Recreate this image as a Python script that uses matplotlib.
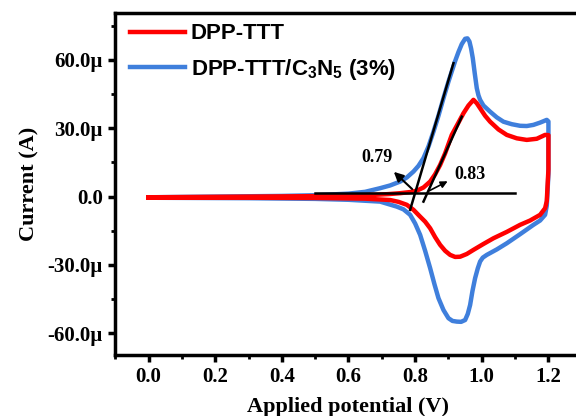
import numpy as np
import matplotlib
matplotlib.use("Agg")
import matplotlib.pyplot as plt
from matplotlib.ticker import MultipleLocator, FuncFormatter

plt.rcParams['mathtext.fontset'] = 'custom'
plt.rcParams['mathtext.rm'] = 'Liberation Sans:bold'
plt.rcParams['mathtext.bf'] = 'Liberation Sans:bold'

# DPP-TTT, forward then reverse scan (V, uA)
red_v = [0.0, 0.3, 0.5, 0.6, 0.68, 0.72, 0.755, 0.785, 0.805, 0.825, 0.845, 0.86, 0.875,
         0.89, 0.91, 0.93, 0.945, 0.96, 0.975, 0.985, 0.995, 1.01, 1.025, 1.05, 1.075,
         1.105, 1.135, 1.165, 1.19, 1.2,
         1.2, 1.195, 1.19, 1.175, 1.145, 1.115, 1.075, 1.035, 1.005, 0.975, 0.955,
         0.935, 0.92, 0.905, 0.89, 0.875, 0.86, 0.845, 0.83, 0.815, 0.795, 0.775,
         0.75, 0.725, 0.65, 0.5, 0.3, 0.0]
red_i = [-0.3, 0.0, 0.2, 0.4, 0.8, 1.1, 1.5, 2.0, 2.6, 4.0, 6.6, 9.8, 13.9,
         19.0, 27.1, 32.5, 36.6, 40.0, 42.5, 41.0, 38.8, 35.5, 32.9, 29.5, 27.1,
         25.6, 24.9, 25.4, 27.1, 27.0,
         12.0, -2.0, -5.1, -8.0, -10.5, -12.4, -15.5, -18.3, -20.8, -23.4, -25.2,
         -26.4, -26.5, -25.6, -23.8, -21.2, -17.8, -13.9, -11.0, -8.8, -5.8, -3.6,
         -2.3, -1.5, -0.9, -0.6, -0.5, -0.5]

# DPP-TTT/C3N5 (3%)
blue_v = [0.0, 0.2, 0.4, 0.5, 0.6, 0.65, 0.695, 0.725, 0.755, 0.775, 0.795, 0.81,
          0.825, 0.84, 0.855, 0.87, 0.885, 0.9, 0.91, 0.92, 0.93, 0.94, 0.95, 0.957,
          0.963, 0.968, 0.973, 0.979, 0.985, 0.99, 0.995, 1.005, 1.025, 1.045, 1.065,
          1.09, 1.115, 1.135, 1.155, 1.175, 1.195, 1.2,
          1.2, 1.195, 1.19, 1.175, 1.155, 1.115, 1.075, 1.045, 1.015, 1.003, 0.995,
          0.988, 0.98, 0.972, 0.965, 0.958, 0.95, 0.938, 0.925, 0.912, 0.9, 0.885,
          0.87, 0.858, 0.845, 0.83, 0.815, 0.8, 0.785, 0.765, 0.745, 0.695, 0.6,
          0.5, 0.3, 0.0]
blue_i = [-0.3, 0.0, 0.3, 0.6, 1.3, 2.1, 3.7, 4.9, 6.6, 8.4, 11.0, 13.5,
          16.9, 22.0, 28.5, 35.5, 43.2, 50.5, 55.0, 59.5, 63.5, 67.0, 69.3, 69.5,
          68.1, 65.0, 60.8, 54.0, 47.6, 44.5, 42.5, 40.0, 37.3, 34.8, 32.9,
          31.8, 31.1, 31.0, 31.5, 32.5, 33.7, 33.0,
          10.0, -4.0, -8.0, -10.5, -12.4, -16.5, -20.5, -23.2, -25.6, -26.8, -28.5,
          -31.5, -35.8, -41.5, -47.6, -51.5, -54.2, -55.0, -54.9, -54.6, -53.4, -49.8,
          -44.6, -38.5, -31.4, -23.8, -16.8, -11.8, -8.0, -5.6, -4.4, -2.2, -1.4,
          -1.0, -0.7, -0.5]

# onset construction lines
base_v = [0.5, 1.1]
base_i = [1.6, 1.6]
blue_tan_v = [0.785, 0.915]
blue_tan_i = [-5.8, 58.6]
red_tan_v = [0.825, 0.94]
red_tan_i = [-2.2, 35.1]

fig = plt.figure(figsize=(5.76, 4.16), dpi=100)
ax = fig.add_axes([0.2, 0.147, 0.81, 0.821])

ax.plot(red_v, red_i, color='#ff0000', lw=3.2, label='DPP-TTT', zorder=3,
        solid_joinstyle='round')
ax.plot(blue_v, blue_i, color='#3f7fdc', lw=3.2, label='DPP-TTT/C$_3$N$_5$ (3%)', zorder=2,
        solid_joinstyle='round')
ax.plot(base_v, base_i, color='black', lw=1.8, zorder=4)
ax.plot(blue_tan_v, blue_tan_i, color='black', lw=1.8, zorder=4)
ax.plot(red_tan_v, red_tan_i, color='black', lw=1.8, zorder=4)

ax.annotate('', xy=(0.73, 11.7), xytext=(0.797, 2.5),
            arrowprops=dict(arrowstyle='-|>', color='black', lw=1.5, mutation_scale=14))
ax.annotate('', xy=(0.905, 7.3), xytext=(0.835, 2.0),
            arrowprops=dict(arrowstyle='-|>', color='black', lw=1.2, mutation_scale=10))
ax.text(0.685, 17.0, '0.79', fontfamily='Liberation Serif', fontweight='bold',
        fontsize=13, ha='center', va='center')
ax.text(0.965, 9.5, '0.83', fontfamily='Liberation Serif', fontweight='bold',
        fontsize=13, ha='center', va='center')

ax.set_xlim(-0.1, 1.3)
ax.set_ylim(-69.5, 80.5)
ax.xaxis.set_major_locator(MultipleLocator(0.2))
ax.xaxis.set_minor_locator(MultipleLocator(0.1))
ax.yaxis.set_major_locator(MultipleLocator(30))
ax.yaxis.set_minor_locator(MultipleLocator(15))
ax.xaxis.set_major_formatter(FuncFormatter(lambda v, p: f'{v:.1f}'))
ax.yaxis.set_major_formatter(FuncFormatter(lambda v, p: '0.0' if abs(v) < 1e-9 else f'{v:.1f}\u00b5'))

for s in ['left', 'bottom', 'top', 'right']:
    ax.spines[s].set_linewidth(2.5)
ax.tick_params(which='major', direction='out', length=5, width=2.5, pad=4)
ax.tick_params(which='minor', direction='out', length=3, width=2.0)
for lab in ax.get_xticklabels() + ax.get_yticklabels():
    lab.set_fontfamily('Liberation Serif')
    lab.set_fontweight('bold')
    lab.set_fontsize(15)

ax.set_xlabel('Applied potential (V)', fontfamily='Liberation Serif', fontweight='bold',
              fontsize=16, labelpad=7)
ax.set_ylabel('Current (A)', fontfamily='Liberation Serif', fontweight='bold',
              fontsize=16, labelpad=6)

leg = ax.legend(loc='upper left', bbox_to_anchor=(0.01, 1.0), frameon=False,
                handlelength=2.5, handletextpad=0.25, labelspacing=0.55,
                borderaxespad=0.05,
                prop={'family': 'Liberation Sans', 'weight': 'bold', 'size': 16})

fig.savefig('out.png', dpi=100)
